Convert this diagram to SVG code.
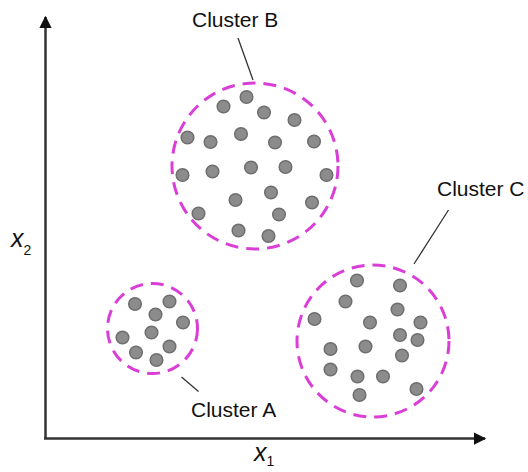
<svg xmlns="http://www.w3.org/2000/svg" width="528" height="472" viewBox="0 0 528 472">
<defs>
<style>
.dot{fill:#8c8c8c;stroke:#6e6e6e;stroke-width:1.5}
.ring{fill:none;stroke:#d93fd6;stroke-width:3;stroke-dasharray:13 8}
.lbl{font-family:"Liberation Sans",Arial,sans-serif;font-size:21px;fill:#111}
.lead{stroke:#333;stroke-width:1.3}
.axis{stroke:#333;stroke-width:2.5;fill:none}
.ax{font-family:"Liberation Sans",Arial,sans-serif;font-style:italic;fill:#111}
</style>
<marker id="ah" viewBox="0 0 10 10" refX="9" refY="5" markerWidth="5" markerHeight="5" orient="auto" markerUnits="strokeWidth">
<path d="M0,0 L10,5 L0,10 z" fill="#111"/>
</marker>
</defs>
<rect width="528" height="472" fill="#fff"/>
<g id="axes">
<line class="axis" x1="45.5" y1="439" x2="45.5" y2="17" marker-end="url(#ah)"/>
<line class="axis" x1="44" y1="438.5" x2="485" y2="438.5" marker-end="url(#ah)"/>
<text class="ax" x="11" y="247" font-size="25">x<tspan font-size="14" dy="8" font-style="normal">2</tspan></text>
<text class="ax" x="254" y="461" font-size="25">x<tspan font-size="14" dy="5" font-style="normal">1</tspan></text>
</g>
<g id="clusterA">
<circle class="ring" cx="152.5" cy="328.5" r="45"/>
<circle class="dot" cx="135" cy="304" r="6.3"/>
<circle class="dot" cx="169.5" cy="301.5" r="6.3"/>
<circle class="dot" cx="155.5" cy="314.5" r="6.3"/>
<circle class="dot" cx="183" cy="322.5" r="6.3"/>
<circle class="dot" cx="151.5" cy="332.5" r="6.3"/>
<circle class="dot" cx="122.5" cy="337.5" r="6.3"/>
<circle class="dot" cx="136" cy="352.5" r="6.3"/>
<circle class="dot" cx="169.5" cy="346.5" r="6.3"/>
<circle class="dot" cx="156.5" cy="360" r="6.3"/>
<text class="lbl" x="191" y="417">Cluster A</text>
</g>
<g id="clusterB">
<circle class="ring" cx="255" cy="166" r="83"/>
<circle class="dot" cx="246.5" cy="97" r="6.3"/>
<circle class="dot" cx="223.5" cy="106.5" r="6.3"/>
<circle class="dot" cx="264" cy="112.5" r="6.3"/>
<circle class="dot" cx="294.5" cy="120" r="6.3"/>
<circle class="dot" cx="187.5" cy="137.5" r="6.3"/>
<circle class="dot" cx="210.5" cy="142" r="6.3"/>
<circle class="dot" cx="241" cy="134" r="6.3"/>
<circle class="dot" cx="275" cy="142.5" r="6.3"/>
<circle class="dot" cx="314" cy="141.5" r="6.3"/>
<circle class="dot" cx="182.5" cy="175" r="6.3"/>
<circle class="dot" cx="212.5" cy="171.5" r="6.3"/>
<circle class="dot" cx="251" cy="167.5" r="6.3"/>
<circle class="dot" cx="285.5" cy="167" r="6.3"/>
<circle class="dot" cx="326.5" cy="175" r="6.3"/>
<circle class="dot" cx="271" cy="192.5" r="6.3"/>
<circle class="dot" cx="235.5" cy="200" r="6.3"/>
<circle class="dot" cx="312" cy="202.5" r="6.3"/>
<circle class="dot" cx="198.5" cy="213.5" r="6.3"/>
<circle class="dot" cx="279" cy="214.5" r="6.3"/>
<circle class="dot" cx="238.5" cy="230.5" r="6.3"/>
<circle class="dot" cx="268.5" cy="236" r="6.3"/>
<text class="lbl" x="192" y="27">Cluster B</text>
</g>
<g id="clusterC">
<circle class="ring" cx="373" cy="341" r="76"/>
<circle class="dot" cx="357" cy="280.5" r="6.3"/>
<circle class="dot" cx="400" cy="285.5" r="6.3"/>
<circle class="dot" cx="345.5" cy="301.5" r="6.3"/>
<circle class="dot" cx="397.5" cy="309.5" r="6.3"/>
<circle class="dot" cx="314.5" cy="319" r="6.3"/>
<circle class="dot" cx="370" cy="322.5" r="6.3"/>
<circle class="dot" cx="420.5" cy="322.5" r="6.3"/>
<circle class="dot" cx="400" cy="335" r="6.3"/>
<circle class="dot" cx="417.5" cy="340" r="6.3"/>
<circle class="dot" cx="330.5" cy="349" r="6.3"/>
<circle class="dot" cx="365.5" cy="346.5" r="6.3"/>
<circle class="dot" cx="402" cy="355.5" r="6.3"/>
<circle class="dot" cx="330.5" cy="369.5" r="6.3"/>
<circle class="dot" cx="357.5" cy="376.5" r="6.3"/>
<circle class="dot" cx="383" cy="376.5" r="6.3"/>
<circle class="dot" cx="416.5" cy="389" r="6.3"/>
<circle class="dot" cx="359.5" cy="395" r="6.3"/>
<text class="lbl" x="437" y="196">Cluster C</text>
</g>
<g id="connectors">
<line class="lead" x1="181.5" y1="377" x2="198.5" y2="391.5"/>
<line class="lead" x1="238" y1="38" x2="253" y2="80"/>
<line class="lead" x1="448.5" y1="210" x2="414" y2="264"/>
</g>
</svg>
